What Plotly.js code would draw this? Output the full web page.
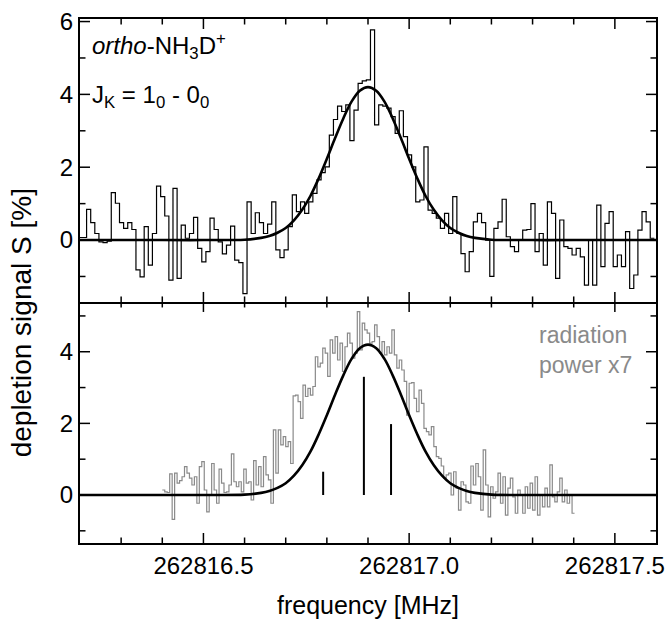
<!DOCTYPE html>
<html><head><meta charset="utf-8">
<script src="https://cdn.plot.ly/plotly-3.0.1.min.js"></script>
<style>html,body{margin:0;padding:0;background:#fff}</style>
</head><body><div id="chart" style="width:672px;height:619px"></div>
<script>
// Top panel: depletion signal histogram (bin left edges start at topStart, width topStep)
const topStart = 262816.196;
const topStep = 0.01;
const topSignal = [
  0.07, 0.07, 0.84, 0.48, 0.18, -0.05, -0.07, -0.03, 1.30, 1.01,
  0.48, 0.32, 0.48, 0.29, -0.82, -1.01, 0.37, -0.69, 0.18, 1.48,
  1.19, 0.66, -1.10, 1.42, -1.05, 0.41, 0.05, 0.18, 0.62, -0.23,
  -0.60, -0.32, 0.60, 0.29, -0.05, -0.38, -0.14, 0.38, -0.55, -0.62,
  -1.47, 1.05, 0.18, 0.75, 0.48, 0.18, 0.44, 1.05, -0.27, -0.48,
  -0.27, 0.37, 1.24, 0.78, 1.05, 0.73, 1.05, 1.28, 1.65, 1.85,
  2.01, 2.88, 3.31, 3.68, 3.53, 3.71, 2.73, 3.57, 4.30, 4.37,
  4.40, 5.77, 3.16, 3.71, 3.68, 3.62, 3.39, 2.93, 3.55, 2.84,
  2.34, 2.01, 1.05, 1.10, 2.56, 0.82, 0.73, 0.60, 0.32, 0.73,
  0.18, 1.19, 0.18, -0.37, -0.87, -0.32, 0.50, 0.73, 0.48, 0.00,
  -1.00, 0.32, 0.50, 1.12, 0.09, -0.18, -0.32, 0.00, 0.27, 0.29,
  1.00, -0.32, 0.18, -0.69, 1.05, 0.73, -1.05, 0.55, -0.18, -0.23,
  -0.41, -0.23, -0.46, -1.24, 0.00, -1.24, 0.96, -0.73, 0.46, 0.78,
  -0.73, -0.41, -0.73, 0.23, -1.33, -0.96, 0.27, 0.78, 0.50, 0.05
];

// Bottom panel: radiation power x7 histogram
const botStart = 262816.40;
const botStep = 0.006;
const botSignal = [
  0.14, 0.09, 0.07, 0.59, -0.68, 0.61, 0.33, 0.40, 0.51, 0.79,
  0.61, 0.47, 0.28, 0.51, -0.23, 0.79, 0.93, 0.14, -0.47, 0.00,
  0.88, 0.14, -0.23, 0.72, 0.33, 0.07, 0.09, 0.28, 1.15, 0.37,
  0.23, 0.37, 0.09, 0.72, 0.33, 0.37, -0.14, 0.96, 0.28, 0.79,
  0.23, 1.07, 0.56, 0.42, -0.23, 1.82, 0.61, 1.82, 1.40, 1.63,
  1.35, 1.49, 0.88, 2.77, 2.79, 2.61, 2.14, 3.07, 2.75, 2.98,
  2.79, 3.03, 3.86, 3.58, 3.68, 4.10, 3.96, 3.31, 4.33, 3.96,
  4.42, 3.77, 4.24, 3.45, 4.14, 4.52, 4.24, 3.82, 3.96, 5.12,
  4.05, 4.80, 4.61,
  4.52, 4.24, 4.28, 4.75, 4.42, 3.96, 4.28, 3.91, 4.14, 3.96,
  4.61, 3.91, 3.54, 3.77, 3.49, 3.17, 2.23, 3.12, 3.14, 2.70,
  2.33, 2.93, 2.56, 1.86, 1.77, 1.68, 1.91, 1.35, 1.07, 1.02,
  0.81, 0.47, 0.56, 0.61, 0.00, 0.65, 0.19, -0.42, 0.37, 0.28,
  -0.19, -0.23, 0.81, 0.28, 0.88, 0.51, -0.42, 1.26, 0.28, -0.61,
  0.23, -0.09, 0.09, 0.61, -0.23, 0.51, -0.56, 0.19, 0.47, -0.05,
  -0.51, 0.14, 0.00, -0.51, 0.23, -0.37, 0.33, -0.42, 0.51, -0.56,
  0.00, -0.33, 0.19, -0.33, 0.84, -0.05, -0.19, 0.09, 0.47, -0.19,
  0.14, -0.23, 0.00, -0.51
];

// Fitted line profile (same in both panels)
const fitFreq = [
  262816.20, 262816.40, 262816.50, 262816.60, 262816.64, 262816.66, 262816.68,
  262816.70, 262816.72, 262816.74, 262816.76, 262816.78, 262816.80, 262816.82,
  262816.84, 262816.86, 262816.88, 262816.90, 262816.92, 262816.94, 262816.96,
  262816.98, 262817.00, 262817.02, 262817.04, 262817.06, 262817.08, 262817.10,
  262817.12, 262817.14, 262817.16, 262817.20, 262817.30, 262817.40, 262817.60
];
const fitSignal = [
  0, 0, 0, 0.01, 0.06, 0.11, 0.20,
  0.33, 0.54, 0.83, 1.21, 1.69, 2.23, 2.80,
  3.34, 3.80, 4.10, 4.20, 4.10, 3.80, 3.34,
  2.80, 2.23, 1.69, 1.21, 0.83, 0.54, 0.33,
  0.20, 0.11, 0.06, 0.01, 0, 0, 0
];

// Hyperfine components (stick spectrum)
const stickFreq = [262816.791, 262816.890, 262816.956];
const stickHeight = [0.65, 3.30, 1.98];

// Axis ranges and tick values
const xRange = [262816.2, 262817.6];
const topYRange = [-1.70, 6.07];
const botYRange = [-1.34, 5.39];
const xMajorTicks = [262816.5, 262817.0, 262817.5];
const xMinorTicks = [262816.3, 262816.4, 262816.6, 262816.7, 262816.8, 262816.9,
                     262817.1, 262817.2, 262817.3, 262817.4];
const topYMajorTicks = [0, 2, 4, 6];
const topYMinorTicks = [-1, 1, 3, 5];
const botYMajorTicks = [0, 2, 4];
const botYMinorTicks = [-1, 1, 3, 5];

function stepX(start, step, n) {
  const xs = [];
  for (let i = 0; i <= n; i++) xs.push(start + i * step);
  return xs;
}
function stepY(vals) { return vals.concat([vals[vals.length - 1]]); }

const stickX = [], stickY = [];
stickFreq.forEach((f, i) => { stickX.push(f, f, null); stickY.push(0, stickHeight[i], null); });

const W = 672, H = 619, M = { l: 80, r: 16, t: 19, b: 76 };
const BOT_TOP = 0.46;
const plotW = W - M.l - M.r, plotH = H - M.t - M.b;
const xPerPx = (xRange[1] - xRange[0]) / plotW;
const botPerPx = (botYRange[1] - botYRange[0]) / (plotH * BOT_TOP);
const topPerPx = (topYRange[1] - topYRange[0]) / (plotH * (1 - BOT_TOP));
const MAJ = 10, MIN = 5.5;

const traces = [
  { x: stepX(topStart, topStep, topSignal.length), y: stepY(topSignal), xaxis: 'x2', yaxis: 'y2',
    mode: 'lines', line: { shape: 'hv', color: '#000', width: 1.2 }, hoverinfo: 'skip' },
  { x: fitFreq, y: fitSignal, xaxis: 'x2', yaxis: 'y2', mode: 'lines',
    line: { shape: 'spline', color: '#000', width: 2.6 }, hoverinfo: 'skip' },
  { x: stepX(botStart, botStep, botSignal.length), y: stepY(botSignal), xaxis: 'x', yaxis: 'y',
    mode: 'lines', line: { shape: 'hv', color: '#8a8a8a', width: 1.2 }, hoverinfo: 'skip' },
  { x: fitFreq, y: fitSignal, xaxis: 'x', yaxis: 'y', mode: 'lines',
    line: { shape: 'spline', color: '#000', width: 2.6 }, hoverinfo: 'skip' },
  { x: stickX, y: stickY, xaxis: 'x', yaxis: 'y', mode: 'lines',
    line: { color: '#000', width: 2 }, hoverinfo: 'skip' }
];

// inward tick marks on all four sides of each panel, drawn through the axes' scales
function xTickTrace(xa, ya, vals, yEdge, yIn) {
  const xs = [], ys = [];
  vals.forEach(v => { xs.push(v, v, null); ys.push(yEdge, yIn, null); });
  return { x: xs, y: ys, xaxis: xa, yaxis: ya, mode: 'lines', line: { color: '#000', width: 1.5 }, hoverinfo: 'skip' };
}
function yTickTrace(xa, ya, vals, xEdge, xIn) {
  const xs = [], ys = [];
  vals.forEach(v => { xs.push(xEdge, xIn, null); ys.push(v, v, null); });
  return { x: xs, y: ys, xaxis: xa, yaxis: ya, mode: 'lines', line: { color: '#000', width: 1.5 }, hoverinfo: 'skip' };
}
[['x', 'y', botYRange, botPerPx, botYMajorTicks, botYMinorTicks],
 ['x2', 'y2', topYRange, topPerPx, topYMajorTicks, topYMinorTicks]].forEach(([xa, ya, yr, perPx, yMaj, yMin]) => {
  traces.push(xTickTrace(xa, ya, xMajorTicks, yr[0], yr[0] + MAJ * perPx));
  traces.push(xTickTrace(xa, ya, xMinorTicks, yr[0], yr[0] + MIN * perPx));
  traces.push(xTickTrace(xa, ya, xMajorTicks, yr[1], yr[1] - MAJ * perPx));
  traces.push(xTickTrace(xa, ya, xMinorTicks, yr[1], yr[1] - MIN * perPx));
  traces.push(yTickTrace(xa, ya, yMaj, xRange[0], xRange[0] + MAJ * xPerPx));
  traces.push(yTickTrace(xa, ya, yMin, xRange[0], xRange[0] + MIN * xPerPx));
  traces.push(yTickTrace(xa, ya, yMaj, xRange[1], xRange[1] - MAJ * xPerPx));
  traces.push(yTickTrace(xa, ya, yMin, xRange[1], xRange[1] - MIN * xPerPx));
});

const FONT = 'Liberation Sans';
const tf = { family: FONT, size: 24, color: '#000' };
const frame = { showline: true, linecolor: '#000', linewidth: 2, showgrid: false, zeroline: false, ticks: '' };

const layout = {
  width: W, height: H,
  margin: M,
  paper_bgcolor: '#fff', plot_bgcolor: '#fff',
  showlegend: false,
  font: { family: FONT, size: 24, color: '#000' },
  xaxis: Object.assign({}, frame, {
    anchor: 'y', range: xRange, tickmode: 'array', tickvals: xMajorTicks, tickformat: '.1f', tickfont: tf, mirror: false,
    title: { text: 'frequency [MHz]', font: { family: FONT, size: 25, color: '#000' }, standoff: 20 }
  }),
  yaxis: Object.assign({}, frame, {
    anchor: 'x', domain: [0, BOT_TOP], range: botYRange, tickmode: 'array', tickvals: botYMajorTicks, tickfont: tf, mirror: true
  }),
  xaxis2: Object.assign({}, frame, {
    anchor: 'y2', range: xRange, tickmode: 'array', tickvals: xMajorTicks, showticklabels: false, mirror: true
  }),
  yaxis2: Object.assign({}, frame, {
    anchor: 'x2', domain: [BOT_TOP, 1], range: topYRange, tickmode: 'array', tickvals: topYMajorTicks, tickfont: tf, mirror: true
  }),
  annotations: [
    { xref: 'paper', yref: 'paper', x: -0.1, y: 0.42, xanchor: 'center', yanchor: 'middle',
      text: 'depletion signal S [%]', textangle: -90, showarrow: false,
      font: { family: FONT, size: 28, color: '#000' } },
    { xref: 'paper', yref: 'paper', x: 0.018, y: 0.948, xanchor: 'left', yanchor: 'middle',
      text: '<i>ortho</i>-NH<sub>3</sub>D<sup>+</sup>', showarrow: false, align: 'left',
      font: { family: FONT, size: 24, color: '#000' } },
    { xref: 'paper', yref: 'paper', x: 0.018, y: 0.853, xanchor: 'left', yanchor: 'middle',
      text: 'J<sub>K</sub> = 1<sub>0</sub> - 0<sub>0</sub>', showarrow: false, align: 'left',
      font: { family: FONT, size: 24, color: '#000' } },
    { xref: 'paper', yref: 'paper', x: 0.793, y: 0.369, xanchor: 'left', yanchor: 'middle',
      text: 'radiation<br>power x7', showarrow: false, align: 'left',
      font: { family: FONT, size: 23, color: '#8a8a8a' } }
  ]
};

Plotly.newPlot('chart', traces, layout, { displayModeBar: false });
</script>
</body></html>
